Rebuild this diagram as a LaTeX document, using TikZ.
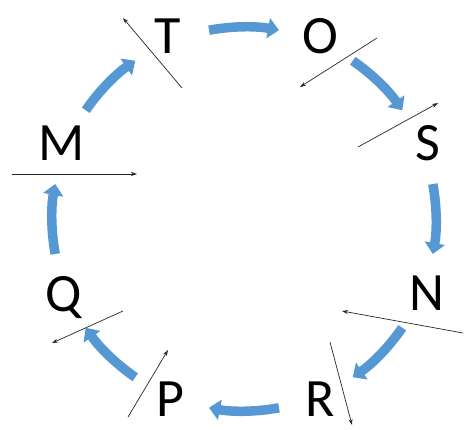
\documentclass[tikz,border=0pt]{standalone}
\usepackage{fontspec}
\setmainfont{Carlito}
\usetikzlibrary{arrows.meta}
\definecolor{cycblue}{RGB}{86,152,212}
\tikzset{
  letter/.style={anchor=base, inner sep=0pt, text depth=0pt, font=\fontsize{54}{60}\selectfont},
  cyc/.style={draw=cycblue, line width=9.5pt, -{Triangle[width=20pt,length=11pt]}},
  thin/.style={draw=black!85, line width=0.7pt, -{Stealth[width=4pt,length=6pt]}}
}
\begin{document}
\begin{tikzpicture}[x=1pt,y=-1pt]
\useasboundingbox (0,0) rectangle (465,429);
% letters
\node[letter] (T) at (168,53) {T};
\node[letter] (O) at (320,53) {O};
\node[letter] (S) at (428,160) {S};
\node[letter] (N) at (427,310) {N};
\node[letter] (R) at (320,416) {R};
\node[letter] (P) at (170,416) {P};
\node[letter] (Q) at (64,311) {Q};
\node[letter] (M) at (62,160) {M};
% cycle arcs (center 244,219 radius 192)
\coordinate (C) at (244,219);
\foreach \a in {90,45,0,-45,-90,-135,-180,-225}{
  \draw[cyc] (C) ++({-\a-10.5}:192) arc[start angle={-\a-10.5}, end angle={-\a+10.5}, radius=192];
}
% thin arrows
\coordinate (t1) at (182,88);  \coordinate (t2) at (123,18);
\coordinate (o1) at (377,38);  \coordinate (o2) at (300,87);
\coordinate (s1) at (358,147); \coordinate (s2) at (438,103);
\coordinate (n1) at (463,333); \coordinate (n2) at (342,311);
\coordinate (r1) at (330,342); \coordinate (r2) at (352,425);
\coordinate (p1) at (128,417); \coordinate (p2) at (168,350);
\coordinate (q1) at (123,311); \coordinate (q2) at (52,343);
\coordinate (m1) at (12,174);  \coordinate (m2) at (137,174);
\draw[thin] (t1) -- (t2);
\draw[thin] (o1) -- (o2);
\draw[thin] (s1) -- (s2);
\draw[thin] (n1) -- (n2);
\draw[thin] (r1) -- (r2);
\draw[thin] (p1) -- (p2);
\draw[thin] (q1) -- (q2);
\draw[thin] (m1) -- (m2);
\end{tikzpicture}
\end{document}
